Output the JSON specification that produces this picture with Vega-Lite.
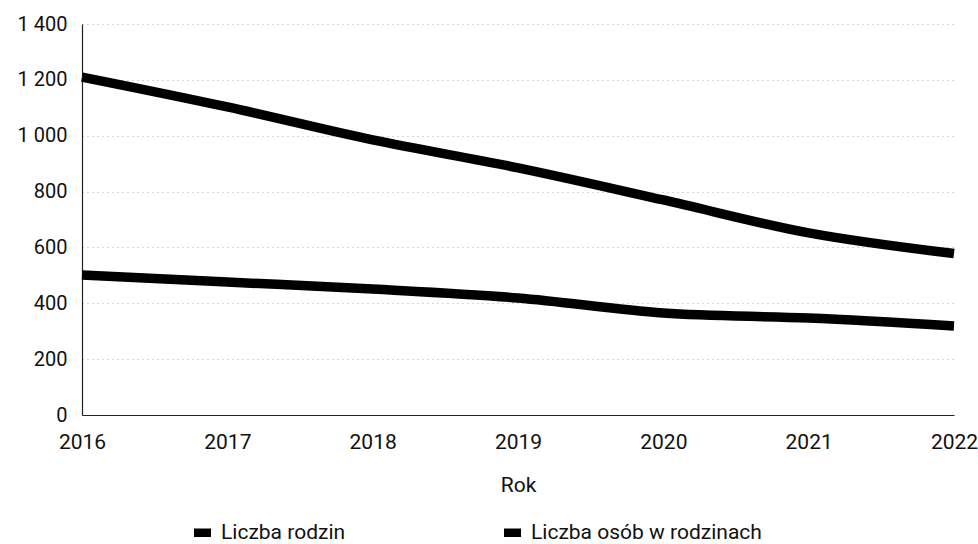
{
  "$schema": "https://vega.github.io/schema/vega-lite/v6.json",
  "width": 872,
  "height": 391,
  "autosize": {"type": "none"},
  "padding": {"left": 82, "top": 24, "right": 24, "bottom": 129},
  "background": "white",
  "config": {
    "locale": {"number": {"decimal": ",", "thousands": " ", "grouping": [3], "currency": ["", " zł"]}},
    "font": "Roboto",
    "view": {"stroke": null}
  },
  "data": {
    "values": [
      {"rok": 2016, "seria": "Liczba osób w rodzinach", "wartosc": 1210},
      {"rok": 2017, "seria": "Liczba osób w rodzinach", "wartosc": 1103},
      {"rok": 2018, "seria": "Liczba osób w rodzinach", "wartosc": 985},
      {"rok": 2019, "seria": "Liczba osób w rodzinach", "wartosc": 885},
      {"rok": 2020, "seria": "Liczba osób w rodzinach", "wartosc": 770},
      {"rok": 2021, "seria": "Liczba osób w rodzinach", "wartosc": 652},
      {"rok": 2022, "seria": "Liczba osób w rodzinach", "wartosc": 578},
      {"rok": 2016, "seria": "Liczba rodzin", "wartosc": 501},
      {"rok": 2017, "seria": "Liczba rodzin", "wartosc": 476},
      {"rok": 2018, "seria": "Liczba rodzin", "wartosc": 451},
      {"rok": 2019, "seria": "Liczba rodzin", "wartosc": 419},
      {"rok": 2020, "seria": "Liczba rodzin", "wartosc": 365},
      {"rok": 2021, "seria": "Liczba rodzin", "wartosc": 347},
      {"rok": 2022, "seria": "Liczba rodzin", "wartosc": 319}
    ]
  },
  "mark": {"type": "line", "strokeWidth": 9.5, "interpolate": "monotone", "strokeCap": "butt"},
  "encoding": {
    "x": {
      "field": "rok", "type": "quantitative",
      "scale": {"domain": [2016, 2022], "nice": false, "zero": false},
      "axis": {
        "title": "Rok", "format": "d", "values": [2016, 2017, 2018, 2019, 2020, 2021, 2022],
        "grid": false, "ticks": false, "domainColor": "#222", "domainWidth": 1.2,
        "labelFontSize": 21, "labelColor": "#111", "labelPadding": 16, "labelFlush": false, "labelDx": -4,
        "titleFontSize": 21, "titleFontWeight": "normal", "titleColor": "#111", "titlePadding": 22
      }
    },
    "y": {
      "field": "wartosc", "type": "quantitative",
      "scale": {"domain": [0, 1400], "nice": false},
      "axis": {
        "title": null, "format": ",d", "values": [0, 200, 400, 600, 800, 1000, 1200, 1400],
        "grid": true, "gridColor": "#aaa", "gridDash": [1, 4], "gridWidth": 1,
        "ticks": false, "domainColor": "#222", "domainWidth": 1.2,
        "labelFontSize": 20, "labelColor": "#111", "labelPadding": 15
      }
    },
    "color": {
      "field": "seria", "type": "nominal",
      "scale": {"domain": ["Liczba rodzin", "Liczba osób w rodzinach"], "range": ["#000000", "#000000"]},
      "legend": {
        "title": null, "orient": "none", "direction": "horizontal", "columns": 2,
        "legendX": 110, "legendY": 498, "symbolType": "M-1,-0.5H1V0.5H-1Z", "symbolSize": 289,
        "symbolFillColor": "#000", "symbolStrokeWidth": 0, "labelLimit": 500,
        "labelFontSize": 21, "labelColor": "#111", "columnPadding": 156, "labelOffset": 8
      }
    }
  }
}
